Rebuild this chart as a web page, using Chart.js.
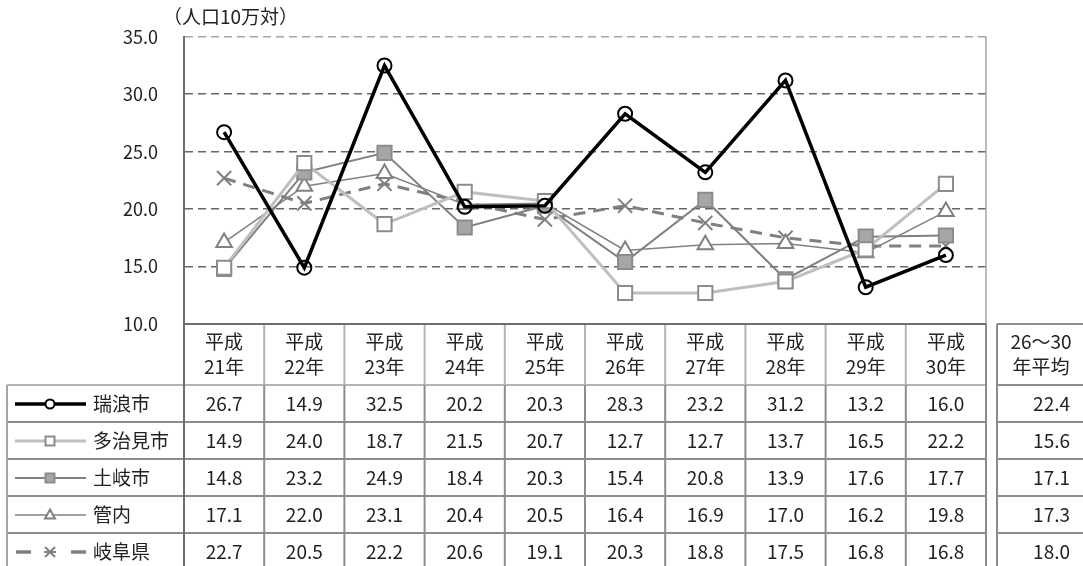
<!DOCTYPE html>
<html lang="ja">
<head>
<meta charset="UTF-8">
<title>死亡率の推移（人口10万対）</title>
<script src="https://cdn.jsdelivr.net/npm/chart.js"></script>
<style>
  body { margin: 0; background: #ffffff; }
  #wrap { width: 1083px; height: 566px; }
</style>
</head>
<body>
<div id="wrap"><canvas id="chart" width="1083" height="566"></canvas></div>
<script>
// 年次ラベル（2行表示）
const years = [
  ['平成', '21年'], ['平成', '22年'], ['平成', '23年'], ['平成', '24年'], ['平成', '25年'],
  ['平成', '26年'], ['平成', '27年'], ['平成', '28年'], ['平成', '29年'], ['平成', '30年']
];
const seriesNames = ['瑞浪市', '多治見市', '土岐市', '管内', '岐阜県'];

const mizunami = [26.7, 14.9, 32.5, 20.2, 20.3, 28.3, 23.2, 31.2, 13.2, 16.0];
const tajimi   = [14.9, 24.0, 18.7, 21.5, 20.7, 12.7, 12.7, 13.7, 16.5, 22.2];
const toki     = [14.8, 23.2, 24.9, 18.4, 20.3, 15.4, 20.8, 13.9, 17.6, 17.7];
const kannai   = [17.1, 22.0, 23.1, 20.4, 20.5, 16.4, 16.9, 17.0, 16.2, 19.8];
const gifu     = [22.7, 20.5, 22.2, 20.6, 19.1, 20.3, 18.8, 17.5, 16.8, 16.8];

// 26～30年平均
const avgHeader = ['26～30', '年平均'];
const averages = [22.4, 15.6, 17.1, 17.3, 18.0];

const yTicks = [10, 15, 20, 25, 30, 35];
const unitLabel = '（人口10万対）';

const FONT = "'Noto Sans CJK JP', 'Noto Sans', sans-serif";
const TEXT = '#222222';

const styles = [
  { line: '#000000', width: 3.5, dash: [], point: 'circle', r: 7, fill: 'rgba(255,255,255,0)', edge: '#000000' },
  { line: '#BFBFBF', width: 3, dash: [], point: 'rect', r: 10, fill: '#ffffff', edge: '#8C8C8C' },
  { line: '#808080', width: 2, dash: [], point: 'rect', r: 10, fill: '#A6A6A6', edge: '#8C8C8C' },
  { line: '#808080', width: 1.5, dash: [], point: 'triangle', r: 9, fill: '#ffffff', edge: '#808080' },
  { line: '#808080', width: 3, dash: [12, 8], point: 'crossRot', r: 10, fill: '#808080', edge: '#808080' }
];
const seriesData = [mizunami, tajimi, toki, kannai, gifu];

const datasets = seriesData.map((d, i) => ({
  label: seriesNames[i],
  data: d,
  borderColor: styles[i].line,
  borderWidth: styles[i].width,
  borderDash: styles[i].dash,
  tension: 0,
  fill: false,
  pointStyle: styles[i].point,
  pointRadius: styles[i].r,
  pointBackgroundColor: styles[i].fill,
  pointBorderColor: styles[i].edge,
  pointBorderWidth: 2
}));

// 凡例用の小さなマーカー
function legendMarker(ctx, st, x, y) {
  ctx.save();
  ctx.setLineDash([]);
  ctx.lineWidth = 2;
  ctx.strokeStyle = st.edge;
  ctx.fillStyle = st.point === 'circle' ? '#ffffff' : st.fill;
  ctx.beginPath();
  if (st.point === 'circle') {
    ctx.arc(x, y, 4.5, 0, Math.PI * 2);
    ctx.fill(); ctx.stroke();
  } else if (st.point === 'rect') {
    ctx.rect(x - 4.5, y - 4.5, 9, 9);
    ctx.fill(); ctx.stroke();
  } else if (st.point === 'triangle') {
    ctx.moveTo(x, y - 5.5);
    ctx.lineTo(x + 5, y + 3.5);
    ctx.lineTo(x - 5, y + 3.5);
    ctx.closePath();
    ctx.fill(); ctx.stroke();
  } else {
    ctx.moveTo(x - 5, y - 5); ctx.lineTo(x + 5, y + 5);
    ctx.moveTo(x + 5, y - 5); ctx.lineTo(x - 5, y + 5);
    ctx.moveTo(x - 6, y); ctx.lineTo(x + 6, y);
    ctx.stroke();
  }
  ctx.restore();
}

function line(ctx, x1, y1, x2, y2, color, w) {
  ctx.save();
  ctx.strokeStyle = color;
  ctx.lineWidth = w;
  ctx.beginPath();
  ctx.moveTo(x1, y1);
  ctx.lineTo(x2, y2);
  ctx.stroke();
  ctx.restore();
}

// 下部のデータ表と単位ラベル
const tablePlugin = {
  id: 'dataTable',
  afterDraw(chart) {
    const ctx = chart.ctx;
    const area = chart.chartArea;
    const xs = chart.scales.x;
    const n = years.length;
    const colW = (area.right - area.left) / n;
    const headTop = area.bottom;
    const headBottom = 385;
    const rowH = 37;
    const legLeft = 7;
    const avgLeft = 997;
    const avgRight = 1100;
    const bottom = 566;
    const dark = '#8C8C8C';
    const light = '#B4B4B4';

    // 単位
    ctx.save();
    ctx.font = '19px ' + FONT;
    ctx.fillStyle = TEXT;
    ctx.textAlign = 'left';
    ctx.textBaseline = 'middle';
    ctx.fillText(unitLabel, 163, 17);
    ctx.restore();

    // 右側の枠線
    line(ctx, area.right, area.top, area.right, headTop, '#A6A6A6', 1.5);

    // 見出し行の縦線
    for (let i = 1; i < n; i++) {
      const x = area.left + colW * i;
      line(ctx, x, headTop, x, headBottom, light, 2);
    }
    // データ行の横線
    for (let r = 0; r < seriesNames.length; r++) {
      const y = headBottom + rowH * r;
      line(ctx, legLeft, y, area.right, y, r === 0 ? light : dark, 2);
      line(ctx, avgLeft, y, avgRight, y, dark, 2);
    }
    // データ行の縦線
    for (let i = 1; i < n; i++) {
      const x = area.left + colW * i;
      line(ctx, x, headBottom, x, bottom, dark, 2);
    }
    line(ctx, legLeft, headBottom, legLeft, bottom, '#A6A6A6', 2);
    line(ctx, area.right, headTop, area.right, bottom, dark, 2);
    line(ctx, area.left, headTop, area.left, bottom, '#6E6E6E', 2);
    // 平均列
    line(ctx, avgLeft, headTop, avgRight, headTop, dark, 2);
    line(ctx, avgLeft, headTop, avgLeft, bottom, dark, 2);
    // 横軸線
    line(ctx, area.left - 1, area.bottom, area.right, area.bottom, '#6E6E6E', 2);

    ctx.save();
    ctx.font = '19px ' + FONT;
    ctx.fillStyle = TEXT;
    ctx.textBaseline = 'middle';
    ctx.textAlign = 'center';
    years.forEach((lab, i) => {
      const x = xs.getPixelForValue(i);
      ctx.fillText(lab[0], x, 342);
      ctx.fillText(lab[1], x, 367);
    });
    ctx.fillText(avgHeader[0], 1041, 342);
    ctx.fillText(avgHeader[1], 1041, 367);

    seriesData.forEach((d, r) => {
      const cy = headBottom + rowH * r + 19;
      ctx.textAlign = 'center';
      d.forEach((v, i) => ctx.fillText(v.toFixed(1), xs.getPixelForValue(i), cy));
      ctx.textAlign = 'right';
      ctx.fillText(averages[r].toFixed(1), 1070, cy);

      // 凡例
      const st = styles[r];
      ctx.save();
      ctx.strokeStyle = st.line;
      ctx.lineWidth = st.width;
      if (st.dash.length) {
        ctx.lineWidth = 3.5;
        ctx.beginPath();
        ctx.moveTo(16, cy); ctx.lineTo(31, cy);
        ctx.moveTo(71, cy); ctx.lineTo(86, cy);
        ctx.stroke();
      } else {
        ctx.beginPath();
        ctx.moveTo(15, cy); ctx.lineTo(86, cy);
        ctx.stroke();
      }
      ctx.restore();
      legendMarker(ctx, st, 50, cy);
      ctx.textAlign = 'left';
      ctx.fillText(seriesNames[r], 93, cy);
    });
    ctx.restore();
  }
};

new Chart(document.getElementById('chart'), {
  type: 'line',
  data: { labels: years.map(l => l.join('')), datasets },
  options: {
    responsive: false,
    animation: false,
    devicePixelRatio: 1,
    events: [],
    layout: { padding: { left: 0, top: 35, right: 97, bottom: 242 } },
    plugins: { legend: { display: false }, tooltip: { enabled: false } },
    scales: {
      x: { type: 'category', offset: true, display: false },
      y: {
        min: 10,
        max: 35,
        afterFit(scale) { scale.width = 184; },
        afterBuildTicks(scale) { scale.ticks = yTicks.map(v => ({ value: v })); },
        ticks: {
          padding: 26,
          color: TEXT,
          font: { family: FONT, size: 18 },
          callback: v => v.toFixed(1)
        },
        grid: {
          drawTicks: false,
          lineWidth: 1.5,
          color: c => c.tick.value === 10 ? 'rgba(0,0,0,0)' : (c.tick.value === 35 ? '#A6A6A6' : '#666666')
        },
        border: { display: true, color: '#6E6E6E', width: 2, dash: [8, 5] }
      }
    }
  },
  plugins: [tablePlugin]
});
</script>
</body>
</html>
